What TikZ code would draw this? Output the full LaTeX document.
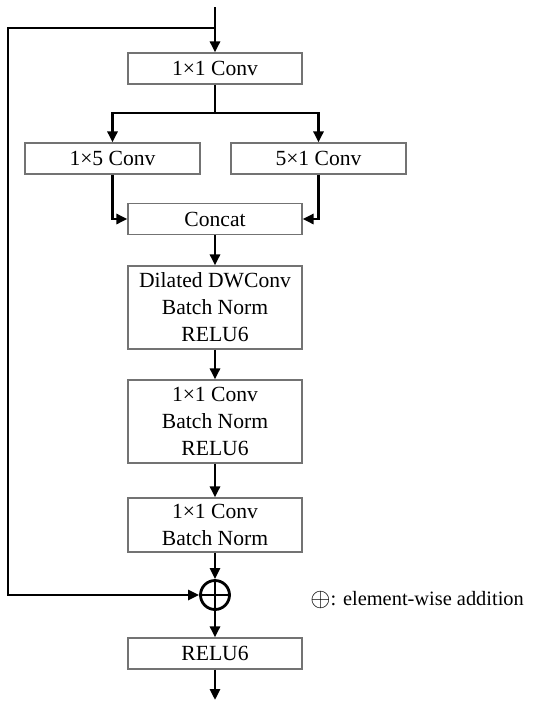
\documentclass[tikz,border=0pt]{standalone}
\usepackage{fontspec}
\setmainfont{Liberation Serif}
\usetikzlibrary{arrows.meta}

\tikzset{
  layer/.style={draw=black!55, line width=0.6pt, minimum width=87pt, minimum height=15.5pt,
    inner sep=0pt, align=center, font=\fontsize{10.8}{13.5}\selectfont},
  flow/.style={line width=1.4pt, -{Triangle[length=5.5pt,width=5pt]}},
  link/.style={line width=1.4pt},
}

\begin{document}
\begin{tikzpicture}[x=0.5pt,y=-0.5pt]
  \useasboundingbox (0,0) rectangle (550,707);
  % blocks
  \node[layer] (conva) at (215,68.5) {1×1 Conv};
  \node[layer,minimum width=87.5pt] (convh) at (112.5,158.5) {1×5 Conv};
  \node[layer,minimum width=87.5pt] (convv) at (318.5,158.5) {5×1 Conv};
  \node[layer] (concat) at (215,219) {Concat};
  \node[layer,minimum height=41.5pt] (dwconv) at (215,307.5) {Dilated DWConv\\Batch Norm\\RELU6};
  \node[layer,minimum height=41.5pt] (pwconv) at (215,421.5) {1×1 Conv\\Batch Norm\\RELU6};
  \node[layer,minimum height=27pt] (proj) at (215,525) {1×1 Conv\\Batch Norm};
  \node[circle,draw,line width=1.4pt,minimum size=14.5pt,inner sep=0pt] (add) at (215,595) {};
  \draw[link] (add.north) -- (add.south) (add.west) -- (add.east);
  \node[layer] (relu) at (215,653.5) {RELU6};
  \node[anchor=west,inner sep=0pt,font=\fontsize{10.2}{13}\selectfont] (legend) at (310,600)
    {\raisebox{-0.5pt}{\scalebox{1.3}{$\oplus$}}: element-wise addition};
  % helper points
  \coordinate (in) at (215,7);
  \coordinate (split) at (215,28);
  \coordinate (rail) at (8,28);
  \coordinate (fork) at (215,113);
  \coordinate (out) at (215,700);
  % connectors
  \draw[flow] (in) -- (conva);
  \draw[flow] (split) -- (rail) -- (rail |- add) -- (add.west);
  \draw[link] (conva) -- (fork);
  \draw[flow] (fork) -| (convh);
  \draw[flow] (fork) -| (convv);
  \draw[flow] (convh) |- (concat);
  \draw[flow] (convv) |- (concat);
  \draw[flow] (concat) -- (dwconv);
  \draw[flow] (dwconv) -- (pwconv);
  \draw[flow] (pwconv) -- (proj);
  \draw[flow] (proj) -- (add);
  \draw[flow] (add) -- (relu);
  \draw[flow] (relu) -- (out);
\end{tikzpicture}
\end{document}
